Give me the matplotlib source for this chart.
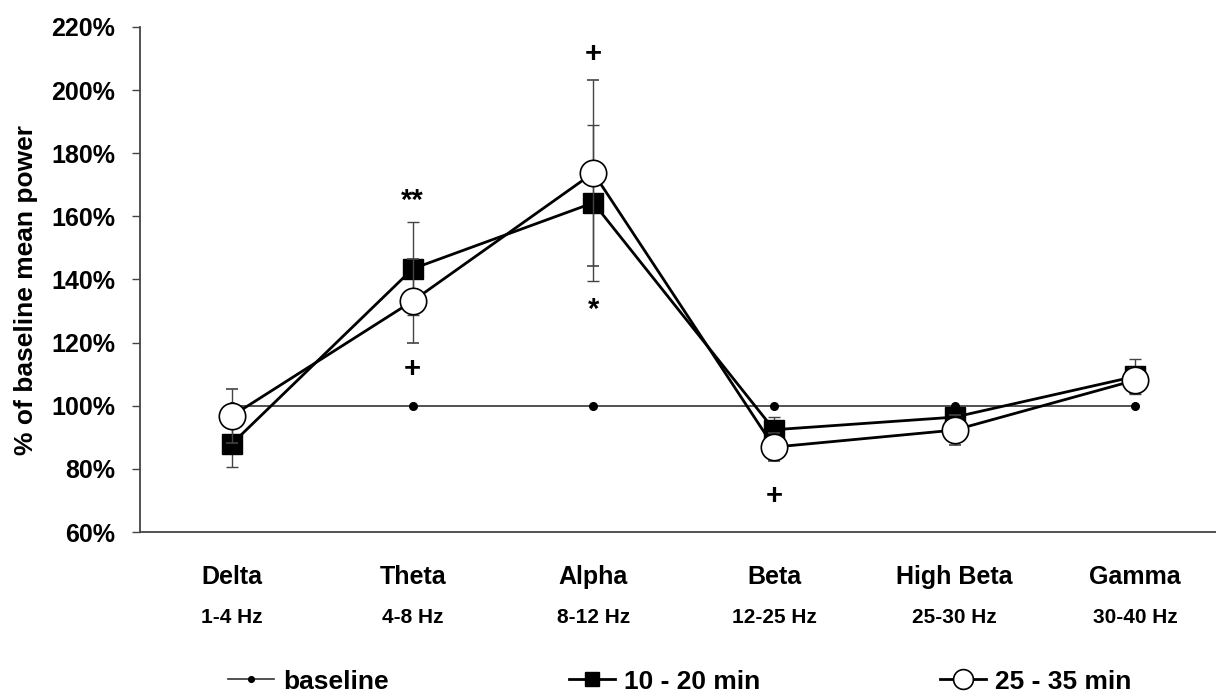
import numpy as np
import matplotlib.pyplot as plt

plt.rcParams['font.family'] = ['Liberation Sans', 'DejaVu Sans']
plt.rcParams['font.weight'] = 'bold'

bands = ["Delta", "Theta", "Alpha", "Beta", "High Beta", "Gamma"]
ranges = ["1-4 Hz", "4-8 Hz", "8-12 Hz", "12-25 Hz", "25-30 Hz", "30-40 Hz"]

baseline = [100, 100, 100, 100, 100, 100]
min10_20 = [88.0, 143.4, 164.3, 92.4, 96.4, 109.3]
min10_20_err = [7.5, 14.8, 24.8, 4.0, 3.0, 5.5]
min25_35 = [96.8, 133.2, 173.8, 86.9, 92.3, 108.1]
min25_35_err = [8.5, 13.3, 29.5, 4.5, 4.8, 4.0]

# significance marks: (band index, y value, text)
marks = [(1, 165.0, "**"), (1, 111.5, "+"), (2, 211.5, "+"), (2, 130.5, "*"), (3, 71.5, "+")]

x = np.arange(len(bands))

fig = plt.figure(figsize=(12.16, 6.92), dpi=100)
ax = fig.add_axes([0.1151, 0.2312, 0.8928, 0.7298])

l0, = ax.plot(x, baseline, color="#333333", lw=1.2, marker="o", ms=5.5, mfc="black", mec="black",
              label="baseline", zorder=2)
e1 = ax.errorbar(x, min10_20, yerr=min10_20_err, color="black", lw=2, marker="s", ms=14,
                 mfc="black", mec="black", ecolor="#444444", elinewidth=1, capsize=4,
                 label="10 - 20 min", zorder=3)
e2 = ax.errorbar(x, min25_35, yerr=min25_35_err, color="black", lw=2, marker="o", ms=19,
                 mfc="white", mec="black", mew=1.2, ecolor="#444444", elinewidth=1, capsize=4,
                 label="25 - 35 min", zorder=4)

for i, yv, t in marks:
    ax.text(x[i], yv, t, ha="center", va="center", fontsize=21, fontweight="bold")

ax.set_xlim(-0.51, 5.5)
ax.set_ylim(60, 220)
ax.set_yticks(np.arange(60, 221, 20))
ax.set_yticklabels(["%d%%" % v for v in range(60, 221, 20)], fontsize=18, fontweight="bold")
ax.set_xticks(x)
ax.set_xticklabels(bands, fontsize=18, fontweight="bold")
ax.tick_params(axis="x", length=0, pad=24)
ax.tick_params(axis="y", direction="out", length=6, width=1, pad=12, color="#444444")
for i, r in enumerate(ranges):
    ax.text(x[i], -0.17, r, transform=ax.get_xaxis_transform(), ha="center", va="center",
            fontsize=15, fontweight="bold")

ax.spines["top"].set_visible(False)
ax.spines["right"].set_visible(False)
ax.spines["left"].set_color("#444444")
ax.spines["bottom"].set_color("#444444")
ax.spines["left"].set_linewidth(1.3)
ax.spines["bottom"].set_linewidth(1.3)

ax.set_ylabel("% of baseline mean power", fontsize=19, fontweight="bold")
ax.yaxis.set_label_coords(-0.094, 0.48)

handles = [l0, e1.lines[0], e2.lines[0]]
labels = ["baseline", "10 - 20 min", "25 - 35 min"]
fig.legend(handles, labels, loc="center", bbox_to_anchor=(0.559, 0.015), ncol=3, frameon=False,
           fontsize=19, handlelength=1.75, handletextpad=0.35, columnspacing=6.8,
           borderpad=0, markerscale=0.75)

fig.savefig("out.png", dpi=100)
